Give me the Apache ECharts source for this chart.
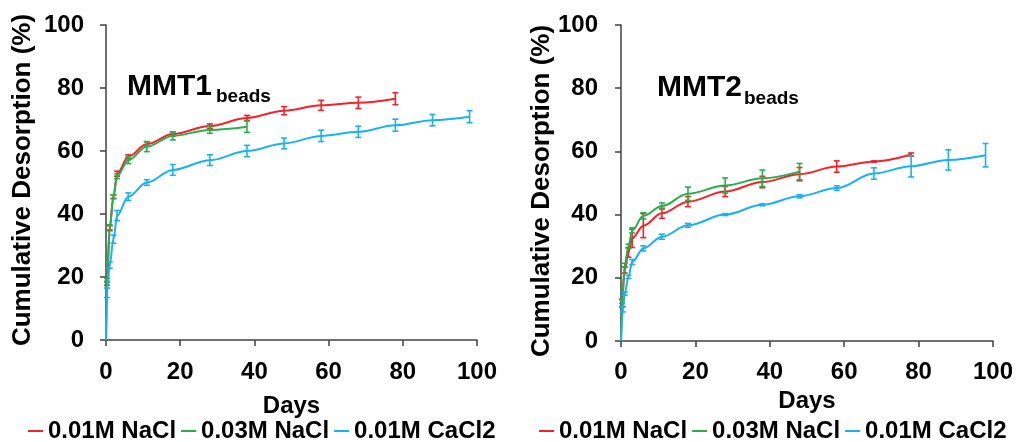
<!DOCTYPE html>
<html>
<head>
<meta charset="utf-8">
<script src="https://cdn.jsdelivr.net/npm/echarts@6/dist/echarts.min.js"></script>
<style>
  html, body { margin: 0; padding: 0; background: #fff; }
  #chart { width: 1016px; height: 442px; }
</style>
</head>
<body>
<div id="chart"></div>
<script>
// Cumulative desorption (%) over time (days), two bead formulations.
const seriesNames = ['0.01M NaCl', '0.03M NaCl', '0.01M CaCl2'];
const colors = ['#F52228', '#25B04C', '#1AB2EE'];
const xTicks = { min: 0, max: 100, interval: 20 };
const yTicks = { min: 0, max: 100, interval: 20 };

// MMT1 beads
const mmt1RedDays  = [0, 0.25, 1, 2, 3, 6, 11, 18, 28, 38, 48, 58, 68, 78];
const mmt1Red      = [0, 18, 35.5, 45.5, 52.8, 58.2, 62.2, 65.4, 67.9, 70.5, 72.8, 74.5, 75.3, 76.6];
const mmt1RedErr   = [0, 0.6, 0.8, 0.6, 0.8, 0.6, 0.7, 0.7, 0.7, 0.8, 1.3, 1.6, 1.8, 1.9];
const mmt1GreenDays = [0, 0.25, 1, 2, 3, 6, 11, 18, 28, 38];
const mmt1Green     = [0, 19, 35.8, 45.5, 52, 57.1, 61.4, 64.8, 66.7, 67.7];
const mmt1GreenErr  = [0, 0.6, 0.8, 0.6, 0.8, 1.1, 1.6, 1.3, 1.1, 1.8];
const mmt1BlueDays = [0, 0.25, 1, 2, 3, 6, 11, 18, 28, 38, 48, 58, 68, 78, 88, 98];
const mmt1Blue     = [0, 15, 23.8, 32, 39.5, 45.5, 50, 54, 57.1, 60, 62.4, 64.8, 66.1, 68.2, 69.8, 70.9];
const mmt1BlueErr  = [0, 1.5, 1.0, 1.3, 1.6, 1.2, 0.9, 1.7, 1.7, 1.8, 1.7, 1.8, 1.8, 1.9, 1.8, 1.9];

// MMT2 beads
const mmt2RedDays  = [0, 0.25, 1, 2, 3, 6, 11, 18, 28, 38, 48, 58, 68, 78];
const mmt2Red      = [0, 12, 22.5, 28, 32.5, 36.5, 40.4, 44.1, 47.3, 50.3, 52.8, 55.2, 56.8, 59];
const mmt2RedErr   = [0, 1.2, 1.0, 1.5, 2.9, 3.8, 1.6, 1.6, 1.6, 1.8, 2.1, 1.8, 0.2, 0.5];
const mmt2GreenDays = [0, 0.25, 1, 2, 3, 6, 11, 18, 28, 38, 48];
const mmt2Green     = [0, 12.5, 24, 30, 35, 39.6, 42.7, 46.6, 49.2, 51.5, 53.6];
const mmt2GreenErr  = [0, 0.6, 0.6, 0.6, 0.8, 1.0, 1.0, 2.1, 2.4, 2.6, 2.6];
const mmt2BlueDays = [0, 0.5, 1, 2, 3, 6, 11, 18, 28, 38, 48, 58, 68, 78, 88, 98];
const mmt2Blue     = [0, 10, 15, 20.3, 25, 29.3, 33, 36.6, 40, 43.1, 45.8, 48.4, 53, 55.3, 57.3, 58.8];
const mmt2BlueErr  = [0, 0.8, 0.5, 0.5, 0.8, 0.8, 0.8, 0.6, 0.3, 0.3, 0.5, 0.7, 1.8, 3.4, 3.2, 3.7];

const FONT = "'Liberation Sans', Arial, Helvetica, sans-serif";

const panels = [
  { label: 'MMT1', grid: { left: 106, top: 25, width: 371, height: 315 },
    labelGapX: 20, labelGapY: 22, nameGap: 54,
    data: [[mmt1RedDays, mmt1Red, mmt1RedErr], [mmt1GreenDays, mmt1Green, mmt1GreenErr], [mmt1BlueDays, mmt1Blue, mmt1BlueErr]],
    yTitle: [23, 180], title: [127, 87, 216, 97], legendLeft: 28 },
  { label: 'MMT2', grid: { left: 621, top: 25, width: 373, height: 316 },
    labelGapX: 19, labelGapY: 23, nameGap: 46,
    data: [[mmt2RedDays, mmt2Red, mmt2RedErr], [mmt2GreenDays, mmt2Green, mmt2GreenErr], [mmt2BlueDays, mmt2Blue, mmt2BlueErr]],
    yTitle: [542, 191], title: [657, 88, 744, 99], legendLeft: 539 }
];

const axisStyle = { lineStyle: { color: '#404040', width: 1.5 } };
const labelStyle = { color: '#000', fontSize: 24, fontWeight: 'bold', fontFamily: FONT };

function errorBarRender(params, api) {
  const x = api.value(0);
  const lo = api.coord([x, api.value(1)]);
  const hi = api.coord([x, api.value(2)]);
  const color = api.visual('color');
  const w = 3;
  const style = { stroke: color, lineWidth: 1.6 };
  return {
    type: 'group',
    children: [
      { type: 'line', shape: { x1: lo[0], y1: lo[1], x2: hi[0], y2: hi[1] }, style },
      { type: 'line', shape: { x1: lo[0] - w, y1: lo[1], x2: lo[0] + w, y2: lo[1] }, style },
      { type: 'line', shape: { x1: hi[0] - w, y1: hi[1], x2: hi[0] + w, y2: hi[1] }, style }
    ]
  };
}

const grids = [], xAxes = [], yAxes = [], series = [], legends = [], graphics = [];

panels.forEach((p, pi) => {
  grids.push(p.grid);
  xAxes.push({
    gridIndex: pi, type: 'value', min: xTicks.min, max: xTicks.max, interval: xTicks.interval,
    name: 'Days', nameLocation: 'middle', nameGap: p.nameGap,
    nameTextStyle: { color: '#000', fontSize: 24, fontWeight: 'bold', fontFamily: FONT },
    axisLine: axisStyle, axisTick: { show: true, length: 6, lineStyle: { color: '#404040', width: 1.5 } },
    axisLabel: Object.assign({ margin: p.labelGapX }, labelStyle),
    splitLine: { show: false }
  });
  yAxes.push({
    gridIndex: pi, type: 'value', min: yTicks.min, max: yTicks.max, interval: yTicks.interval,
    axisLine: Object.assign({ show: true }, axisStyle),
    axisTick: { show: true, length: 6, lineStyle: { color: '#404040', width: 1.5 } },
    axisLabel: Object.assign({ margin: p.labelGapY }, labelStyle),
    splitLine: { show: false }
  });

  p.data.forEach((d, si) => {
    const [days, vals, errs] = d;
    series.push({
      name: seriesNames[si], type: 'line', xAxisIndex: pi, yAxisIndex: pi,
      data: days.map((x, i) => [x, vals[i]]),
      smooth: 0.35, smoothMonotone: 'x', showSymbol: false, symbol: 'none',
      lineStyle: { color: colors[si], width: 2 }, itemStyle: { color: colors[si] },
      z: 2 + si
    });
    series.push({
      name: seriesNames[si], type: 'custom', xAxisIndex: pi, yAxisIndex: pi,
      renderItem: errorBarRender, itemStyle: { color: colors[si] },
      data: days.map((x, i) => [x, vals[i] - errs[i], vals[i] + errs[i]]).filter((r, i) => errs[i] > 0),
      encode: { x: 0, y: [1, 2] }, z: 2 + si
    });
  });

  legends.push({
    data: seriesNames, left: p.legendLeft, top: 419, width: 490, padding: 0,
    orient: 'horizontal',
    icon: 'rect', itemWidth: 15, itemHeight: 2, itemGap: 5,
    textStyle: { color: '#000', fontSize: 24, fontWeight: 'bold', fontFamily: FONT },
    selectedMode: false
  });

  graphics.push({
    type: 'text', x: p.yTitle[0], y: p.yTitle[1], rotation: Math.PI / 2,
    style: { text: 'Cumulative Desorption (%)', fill: '#000', font: 'bold 26px ' + FONT,
             textAlign: 'center', textVerticalAlign: 'middle' }
  });
  graphics.push({
    type: 'text', x: p.title[0], y: p.title[1],
    style: { text: p.label, fill: '#000', font: 'bold 30px ' + FONT, textAlign: 'left', textVerticalAlign: 'middle' }
  });
  graphics.push({
    type: 'text', x: p.title[2], y: p.title[3],
    style: { text: 'beads', fill: '#000', font: 'bold 19px ' + FONT, textAlign: 'left', textVerticalAlign: 'middle' }
  });
});

const chart = echarts.init(document.getElementById('chart'), null, { renderer: 'canvas' });
chart.setOption({
  animation: false,
  backgroundColor: '#fff',
  grid: grids, xAxis: xAxes, yAxis: yAxes,
  legend: legends, series: series, graphic: graphics
});
</script>
</body>
</html>
